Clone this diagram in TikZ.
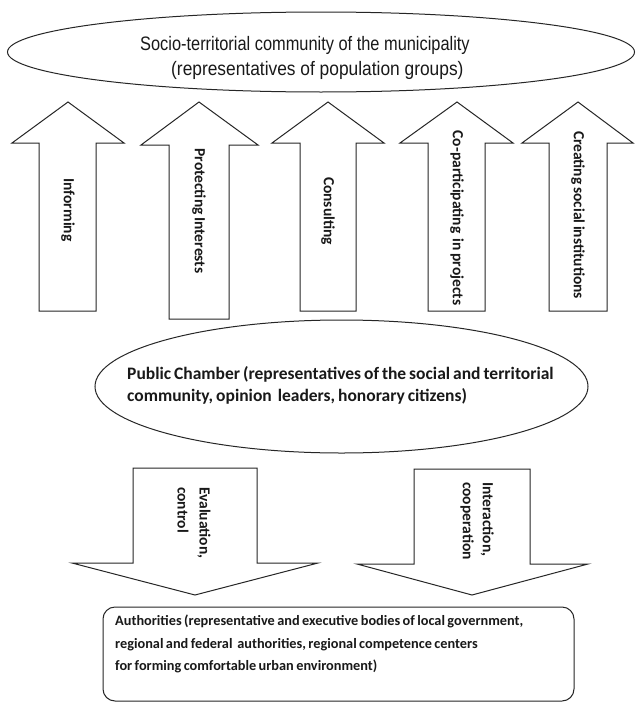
\documentclass[tikz,border=0pt]{standalone}
\usepackage{fontspec}
\setmainfont{Carlito}
\newfontfamily\arialn[FakeStretch=0.84]{Liberation Sans}
\newfontfamily\arialm[FakeStretch=0.89]{Liberation Sans}
\newfontfamily\calb[WordSpace=0.75]{Carlito}
\usetikzlibrary{shapes.geometric}
\begin{document}
\begin{tikzpicture}[x=1pt,y=-1pt,
  blockshape/.style={draw=black!85, line width=1pt, line join=miter, fill=white},
  ovalbox/.style={ellipse, draw=black!85, line width=1pt, inner sep=0pt},
  arrlbl/.style={font=\calb\bfseries\fontsize{15.5}{20}\selectfont, rotate=-90, inner sep=0pt, text=black!90},
]
\useasboundingbox[fill=white] (0,0) rectangle (638,704);

% top ellipse
\node[ovalbox, minimum width=627pt, minimum height=80pt] (comm) at (321,52) {};
\node[anchor=west, align=left, inner sep=0pt, font=\fontsize{19.5}{25}\selectfont, text=black!90] (commtext) at (140,58)
  {\arialn Socio-territorial community of the municipality\\\hspace*{31pt}\arialm(representatives of population groups)};

% up arrows
\draw[blockshape] (39,311) -- (39,143) -- (12,143) -- (68,102) -- (124,143) -- (96,143) -- (96,311) -- cycle;
\draw[blockshape] (169,319) -- (169,145) -- (141,145) -- (199,102) -- (258,145) -- (229,145) -- (229,319) -- cycle;
\draw[blockshape] (300,311) -- (300,143) -- (272,143) -- (328,102) -- (384,143) -- (356,143) -- (356,311) -- cycle;
\draw[blockshape] (428,311) -- (428,143) -- (400,143) -- (457,102) -- (513,143) -- (485,143) -- (485,311) -- cycle;
\draw[blockshape] (549,311) -- (549,143) -- (522,143) -- (578,102) -- (633,143) -- (607,143) -- (607,311) -- cycle;

\node[arrlbl] (l1) at (68,210) {Informing};
\node[arrlbl] (l2) at (199,211) {Protecting Interests};
\node[arrlbl] (l3) at (328,211) {Consulting};
\node[arrlbl] (l4) at (457,218) {Co-participating\ \ in projects};
\node[arrlbl] (l5) at (578,215) {Creating social institutions};

% public chamber
\node[ovalbox, minimum width=493pt, minimum height=133pt] (chamber) at (341.5,386.5) {};
\node[anchor=west, align=left, inner sep=0pt, font=\calb\bfseries\fontsize{17.5}{22}\selectfont, text=black!90] (chambertext) at (127,385)
  {Public Chamber (representatives of the social and territorial\\community, opinion\ \ leaders, honorary citizens)};

% down arrows
\draw[blockshape] (133,468) -- (257,468) -- (257,563) -- (318,563) -- (195,595) -- (72,563) -- (133,563) -- cycle;
\draw[blockshape] (414,469) -- (530,469) -- (530,564) -- (588,564) -- (472,595) -- (357,564) -- (414,564) -- cycle;
\node[arrlbl, anchor=west, align=left, font=\calb\bfseries\fontsize{15.5}{22}\selectfont] (d1) at (194,487) {Evaluation,\\control};
\node[arrlbl, anchor=west, align=left, font=\calb\bfseries\fontsize{15.5}{20}\selectfont] (d2) at (477,482) {Interaction,\\cooperation};

% authorities
\node[draw=black!85, line width=1pt, rounded corners=12pt, minimum width=471pt, minimum height=94pt, inner sep=0pt] (auth) at (338.5,654) {};
\node[anchor=north west, align=left, inner sep=0pt, font=\calb\bfseries\fontsize{14.3}{22.5}\selectfont, text=black!90] (authtext) at (115,615)
  {Authorities (representative and executive bodies of local government,\\regional and federal\ \ authorities, regional competence centers\\for forming comfortable urban environment)};
\end{tikzpicture}
\end{document}
